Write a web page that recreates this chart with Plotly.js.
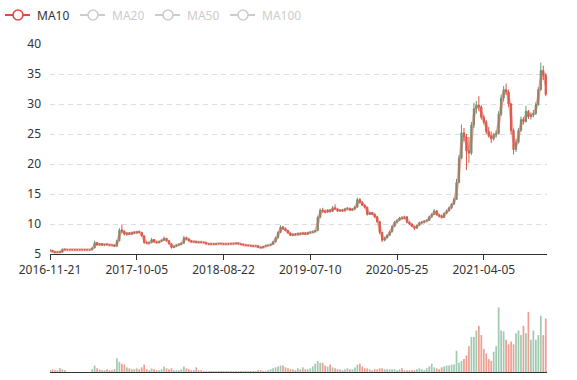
<!DOCTYPE html>
<html><head><meta charset="utf-8">
<script src="https://cdn.plot.ly/plotly-3.0.1.min.js"></script>
<style>html,body{margin:0;padding:0;background:#fff}#chart{width:577px;height:380px}</style>
</head><body><div id="chart"></div>
<script>
// Tick labels of the category (trading-date) axis
const tickLabels = ['2016-11-21','2017-10-05','2018-08-22','2019-07-10','2020-05-25','2021-04-05'];
const legendNames = ['MA10','MA20','MA50','MA100'];

const open = [5.5,5.6,5.35,5.25,5.35,5.3,5.8,
5.7,5.7,5.7,5.7,5.7,5.7,5.7,5.7,5.7,5.7,
5.7,6.0,6.9,6.5,6.7,6.5,6.6,6.55,6.45,6.5,
6.3,7.2,9.0,8.8,8.3,8.5,8.3,8.6,8.5,8.7,
8.6,8.0,6.9,6.8,6.9,7.4,7.0,6.9,7.1,7.3,
7.6,7.2,6.7,6.1,6.3,6.5,6.6,6.8,7.7,7.5,
7.2,7.0,7.1,6.9,7.0,6.95,6.9,6.7,6.65,6.7,
6.6,6.7,6.75,6.7,6.65,6.7,6.65,6.75,6.7,6.8,
6.7,6.6,6.5,6.45,6.4,6.35,6.3,6.35,6.1,6.05,
6.25,6.4,6.45,6.6,7.0,7.7,8.6,9.5,9.2,8.9,
8.5,8.1,8.3,8.2,8.4,8.3,8.5,8.3,8.55,8.6,
8.7,8.9,11.1,12.3,12.1,12.0,12.3,12.1,12.7,12.5,
12.2,12.3,12.2,12.5,12.6,12.3,12.5,12.8,14.1,13.6,
13.1,12.8,11.6,11.9,11.6,11.2,10.4,8.6,7.3,7.7,
8.1,8.7,9.6,10.3,10.6,11.0,10.9,11.2,10.3,10.0,
9.6,9.3,9.8,10.2,10.3,10.5,10.6,11.2,11.6,12.2,
11.5,11.3,11.1,11.8,12.2,12.7,13.3,14.1,16.9,21.0,
25.2,24.5,22.2,21.8,26.5,29.2,29.8,29.5,27.8,27.0,
25.4,24.7,24.2,24.9,25.1,28.3,31.0,32.4,32.0,30.0,
25.6,22.4,23.6,25.6,27.4,27.1,28.8,27.9,28.2,28.4,
29.9,32.4,35.6,34.8];
const high = [5.8,5.6,5.45,5.4,5.5,5.9,5.85,
5.7,5.7,5.7,5.7,5.7,5.7,5.7,5.7,5.7,5.7,
6.1,7.2,7.0,6.8,6.75,6.7,6.8,6.65,6.6,6.55,
7.4,9.3,9.9,8.9,8.6,8.6,8.7,8.8,8.8,8.9,
8.7,8.1,7.1,7.0,7.7,7.5,7.2,7.2,7.4,7.9,
7.7,7.3,6.8,6.4,6.6,6.8,6.9,8.0,7.9,7.6,
7.3,7.2,7.2,7.1,7.1,7.05,7.0,6.8,6.8,6.75,
6.8,6.85,6.85,6.8,6.75,6.8,6.8,6.85,6.9,6.95,
6.75,6.7,6.6,6.55,6.5,6.45,6.4,6.4,6.2,6.3,
6.45,6.5,6.7,7.2,7.9,8.8,9.8,9.7,9.4,9.0,
8.6,8.4,8.5,8.6,8.6,8.7,8.6,8.7,8.8,8.9,
9.0,11.4,12.6,12.7,12.4,12.5,12.5,13.0,13.3,12.6,
12.5,12.5,12.7,12.8,12.7,12.6,13.0,14.4,14.3,13.8,
13.3,12.9,12.0,12.0,11.8,11.3,10.5,8.7,7.9,8.3,
8.9,9.8,10.5,10.8,11.2,11.3,11.4,11.3,10.4,10.1,
9.7,9.9,10.4,10.5,10.6,10.8,11.4,11.8,12.5,12.3,
11.7,11.6,11.9,12.4,12.9,13.5,14.4,17.5,21.5,26.6,
26.0,25.0,24.5,27.0,30.2,30.5,31.3,29.8,28.2,27.3,
26.2,25.4,25.2,25.6,28.8,31.6,33.0,33.4,32.4,30.2,
25.9,24.2,26.0,27.9,27.8,29.7,29.0,28.6,29.0,30.3,
32.8,36.9,36.4,35.2];
const low = [5.4,5.3,5.15,5.2,5.25,5.3,5.65,
5.7,5.7,5.7,5.7,5.7,5.7,5.7,5.7,5.7,5.7,
5.7,5.95,6.4,6.4,6.4,6.35,6.5,6.35,6.3,6.2,
6.2,7.1,8.5,8.1,8.0,8.2,8.2,8.4,8.4,8.5,
7.9,6.7,6.7,6.6,6.8,6.9,6.8,6.8,7.0,7.2,
7.1,6.6,5.9,6.0,6.2,6.4,6.5,6.7,7.3,7.1,
6.9,6.9,6.8,6.8,6.85,6.8,6.6,6.55,6.5,6.5,
6.55,6.6,6.6,6.55,6.55,6.6,6.6,6.6,6.65,6.65,
6.55,6.45,6.4,6.35,6.3,6.2,6.2,6.0,5.95,6.0,
6.2,6.3,6.4,6.55,6.95,7.6,8.5,9.0,8.8,8.4,
8.0,8.0,8.1,8.1,8.2,8.2,8.2,8.25,8.4,8.5,
8.6,8.8,11.0,11.9,11.8,11.9,11.9,12.0,12.4,12.0,
12.0,12.0,12.1,12.3,12.2,12.2,12.4,12.7,13.4,13.0,
12.6,11.4,11.5,11.5,11.0,10.2,8.3,7.0,7.1,7.6,
8.0,8.6,9.5,10.1,10.5,10.8,10.8,10.1,9.8,9.5,
9.0,9.2,9.7,10.0,10.1,10.3,10.5,11.0,11.5,11.4,
11.1,10.9,11.0,11.7,12.1,12.5,13.2,14.0,16.8,20.8,
23.8,19.0,20.2,21.5,26.0,28.4,28.8,27.4,26.6,25.0,
24.4,23.5,23.9,24.4,24.9,28.0,30.4,31.5,29.5,25.0,
21.6,22.0,23.4,25.4,26.6,26.9,27.5,27.4,27.8,28.2,
29.7,32.2,34.0,31.3];
const close = [5.6,5.35,5.25,5.35,5.3,5.8,5.7,
5.7,5.7,5.7,5.7,5.7,5.7,5.7,5.7,5.7,5.7,
6.0,6.9,6.5,6.7,6.5,6.6,6.55,6.45,6.5,6.3,
7.2,9.0,8.8,8.3,8.5,8.3,8.6,8.5,8.7,8.6,
8.0,6.9,6.8,6.9,7.4,7.0,6.9,7.1,7.3,7.6,
7.2,6.7,6.1,6.3,6.5,6.6,6.8,7.7,7.5,7.2,
7.0,7.1,6.9,7.0,6.95,6.9,6.7,6.65,6.7,6.6,
6.7,6.75,6.7,6.65,6.7,6.65,6.75,6.7,6.8,6.7,
6.6,6.5,6.45,6.4,6.35,6.3,6.35,6.1,6.05,6.25,
6.4,6.45,6.6,7.0,7.7,8.6,9.5,9.2,8.9,8.5,
8.1,8.3,8.2,8.4,8.3,8.5,8.3,8.55,8.6,8.7,
8.9,11.1,12.3,12.1,12.0,12.3,12.1,12.7,12.5,12.2,
12.3,12.2,12.5,12.6,12.3,12.5,12.8,14.1,13.6,13.1,
12.8,11.6,11.9,11.6,11.2,10.4,8.6,7.3,7.7,8.1,
8.7,9.6,10.3,10.6,11.0,10.9,11.2,10.3,10.0,9.6,
9.3,9.8,10.2,10.3,10.5,10.6,11.2,11.6,12.2,11.5,
11.3,11.1,11.8,12.2,12.7,13.3,14.1,16.9,21.0,25.2,
24.5,22.2,21.8,26.5,29.2,29.8,29.5,27.8,27.0,25.4,
24.7,24.2,24.9,25.1,28.3,31.0,32.4,32.0,30.0,25.6,
22.4,23.6,25.6,27.4,27.1,28.8,27.9,28.2,28.4,29.9,
32.4,35.6,34.8,31.6];
const volume = [2,3,2,2,4,3,2,
0,0,0,0,0,0,0,0,0,0,
3,7,4,3,2,2,3,2,2,3,
15,11,9,8,5,4,3,3,4,3,
5,8,3,2,4,3,2,2,3,6,
4,3,4,2,2,2,3,6,4,3,
2,2,5,2,2,1,1,1,1,1,
1,1,1,1,1,1,1,1,1,1,
1,1,1,1,1,1,1,2,2,1,
1,2,3,4,5,6,7,7,5,4,
3,3,2,4,3,5,3,3,4,6,
9,12,10,10,7,6,8,5,4,3,
3,2,3,4,3,3,5,8,9,6,
4,4,3,2,3,3,4,4,3,3,
3,3,3,2,3,4,2,2,2,2,
2,3,4,3,2,4,6,9,5,4,
3,5,6,7,7,8,8,23,10,12,
14,18,28,38,38,45,50,40,25,20,
14,12,22,28,70,45,44,35,30,33,
30,42,45,40,50,42,65,35,45,35,
40,61,40,58];

// each sample spans ~5 trading days, so a 2-sample window ~ 10 trading days
const maWindow = 2;
function movingAverage(values, n) {
  return values.map((v, i) => {
    const s = values.slice(Math.max(0, i - n + 1), i + 1);
    return s.reduce((a, b) => a + b, 0) / s.length;
  });
}

const idx = close.map((_, i) => i);
const labelStep = 35;
const tickVals = tickLabels.map((_, k) => k * labelStep);
const UP = '#5b9e79', DOWN = '#dc5646';
const volColors = close.map((c, i) => c >= open[i] ? 'rgba(110,172,136,0.65)' : 'rgba(230,106,88,0.65)');

const traces = [
  {type:'candlestick', x:idx, open:open, high:high, low:low, close:close, xaxis:'x', yaxis:'y',
   increasing:{line:{color:UP,width:1},fillcolor:UP}, decreasing:{line:{color:DOWN,width:1},fillcolor:DOWN},
   whiskerwidth:0, hoverinfo:'skip', showlegend:false},
  {type:'scatter', mode:'lines', x:idx, y:movingAverage(close, maWindow), xaxis:'x', yaxis:'y',
   line:{color:'rgba(224,90,80,0.45)', width:3, shape:'spline', smoothing:0.5}, hoverinfo:'skip', showlegend:false},
  {type:'bar', x:idx, y:volume, xaxis:'x2', yaxis:'y2', marker:{color:volColors, line:{width:0}},
   hoverinfo:'skip', showlegend:false}
];

const W = 577, H = 380, L = 50, R = 30, T = 44, B = 8;
const pw = W - L - R, ph = H - T - B;
const px = x => (x - L) / pw;
const py = y => (H - B - y) / ph;

// Legend (ECharts style: line + hollow circle icon), only MA10 active
const shapes = [], annotations = [];
legendNames.forEach((name, k) => {
  const x0 = 5 + k * 75, yc = 15;
  const active = k === 0;
  const col = active ? '#dd4b44' : '#cccccc';
  shapes.push({type:'line', xref:'paper', yref:'paper', x0:px(x0), x1:px(x0 + 25), y0:py(yc), y1:py(yc), line:{color:col, width:2}});
  shapes.push({type:'circle', xref:'paper', yref:'paper', x0:px(x0 + 8), x1:px(x0 + 18), y0:py(yc + 5), y1:py(yc - 5), line:{color:col, width:1.6}, fillcolor:'#ffffff'});
  annotations.push({xref:'paper', yref:'paper', x:px(x0 + 30), y:py(yc), xanchor:'left', yanchor:'middle', text:name, showarrow:false,
    font:{size:12, color: active ? '#333333' : '#cccccc'}});
});

const layout = {
  width:W, height:H, margin:{l:L, r:R, t:T, b:B}, paper_bgcolor:'#fff', plot_bgcolor:'#fff', showlegend:false,
  font:{family:'"Noto Sans", "Open Sans", sans-serif', size:12, color:'#333'},
  bargap:0.3,
  xaxis:{domain:[0,1], anchor:'y', range:[0, 200.5], tickmode:'array', tickvals:tickVals, ticktext:tickLabels,
    ticks:'outside', ticklen:5, tickcolor:'#333', showline:true, linecolor:'#333', linewidth:1,
    showgrid:false, zeroline:false, rangeslider:{visible:false}, tickfont:{size:12, color:'#333'}, fixedrange:true},
  yaxis:{domain:[py(254), 1], anchor:'x', range:[5, 40], tickmode:'linear', tick0:0, dtick:5,
    showgrid:true, gridcolor:'#dedede', griddash:'5px,4px', zeroline:false, showline:false, ticks:'',
    ticklabelstandoff:8, tickfont:{size:12, color:'#333'}, fixedrange:true},
  xaxis2:{domain:[0,1], anchor:'y2', matches:'x', showticklabels:false, ticks:'', showline:true, linecolor:'#333',
    layer:'below traces', showgrid:false, zeroline:false, rangeslider:{visible:false}},
  yaxis2:{domain:[0, py(300)], anchor:'x2', range:[0, 78], showticklabels:false, showgrid:false, zeroline:false, showline:false, ticks:''},
  shapes:shapes, annotations:annotations
};

Plotly.newPlot('chart', traces, layout, {staticPlot:true, displayModeBar:false});
</script>
</body></html>
